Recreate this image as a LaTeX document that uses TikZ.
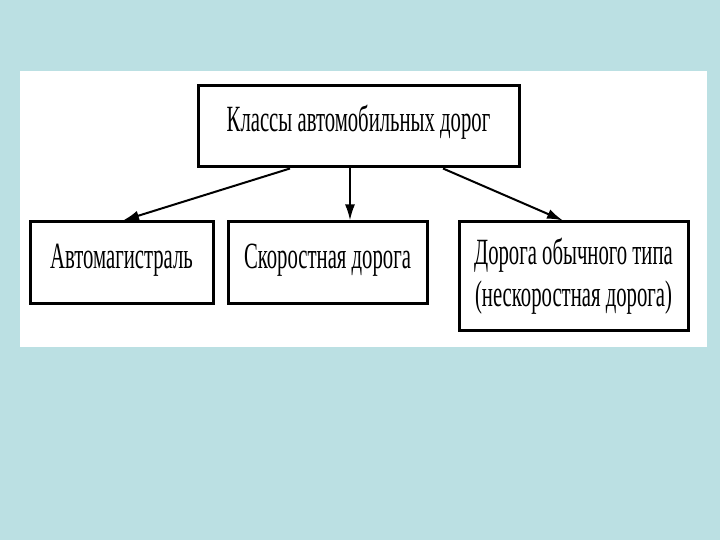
\documentclass[tikz,border=0pt]{standalone}
\usepackage{fontspec}
\newfontfamily\roadfont{Liberation Serif}[FakeStretch=0.56]
\usetikzlibrary{arrows.meta}
\definecolor{slidebg}{RGB}{187,224,227}

\begin{document}
\begin{tikzpicture}[x=1pt,y=-1pt,
  box/.style={draw,line width=3pt,rectangle,inner sep=0pt,align=center,
    font=\roadfont\fontsize{37}{42}\selectfont},
  oneline/.style={box,minimum height=81pt,text height=24pt,text depth=13pt},
  arr/.style={line width=2pt,-{Latex[length=16pt,width=10pt]}}]
  % slide background and white panel
  \fill[slidebg] (0,0) rectangle (720,540);
  \fill[white] (20,71) rectangle (707,347);
  % boxes
  \node[oneline,minimum width=321pt] (classes) at (358.5,126.5) {Классы автомобильных дорог};
  \node[oneline,minimum width=183pt] (motorway) at (121.5,262.5) {Автомагистраль};
  \node[oneline,minimum width=199pt] (expressway) at (327.5,262.5) {Скоростная дорога};
  \node[box,minimum width=229pt,minimum height=108pt] (ordinary) at (573.5,276) {Дорога обычного типа\\(нескоростная дорога)};
  % arrows
  \draw[arr] ([xshift=-68.5pt]classes.south) -- ([xshift=1.5pt]motorway.north);
  \draw[arr] ([xshift=-8.5pt]classes.south) -- ([xshift=22.5pt]expressway.north);
  \draw[arr] ([xshift=84.5pt]classes.south) -- ([xshift=-10.5pt]ordinary.north);
\end{tikzpicture}
\end{document}
